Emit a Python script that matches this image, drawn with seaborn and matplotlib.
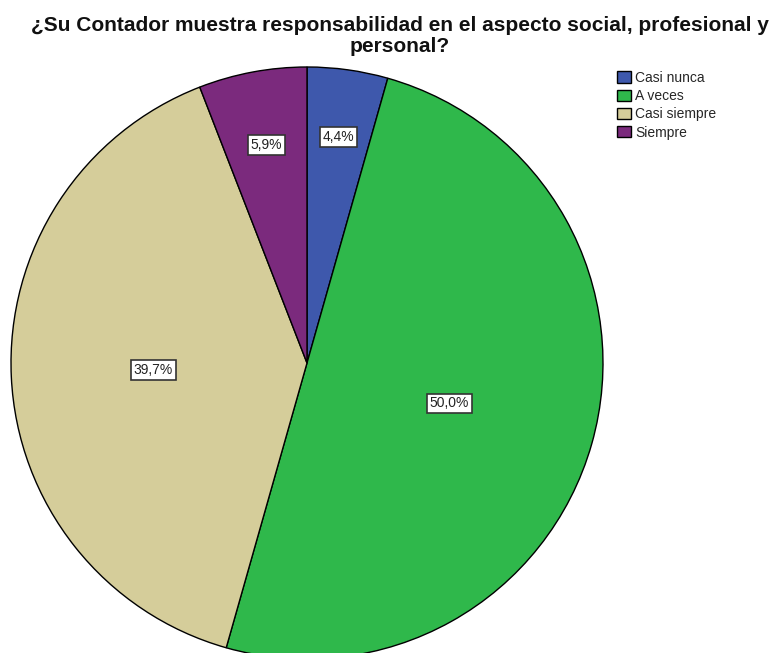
import matplotlib
matplotlib.use('Agg')
import matplotlib.pyplot as plt
import numpy as np
import seaborn as sns

# datos del gráfico
categorias = ['Casi nunca', 'A veces', 'Casi siempre', 'Siempre']
porcentajes = [4.4, 50.0, 39.7, 5.9]
colores = ['#3E58AC', '#2FB84B', '#D5CD9A', '#7B2A7D']
# distancia de cada etiqueta al centro (fracción del radio)
dist_etiquetas = [0.77, 0.5, 0.52, 0.75]

sns.set_theme(style='white')
plt.rcParams['font.family'] = ['Liberation Sans', 'DejaVu Sans']

fig = plt.figure(figsize=(7.84, 6.53), dpi=100)
ax = fig.add_axes([11 / 784, -6 / 653, 592 / 784, 592 / 653])

wedges, _ = ax.pie(porcentajes, colors=colores, startangle=90, counterclock=False,
                   radius=1, wedgeprops=dict(edgecolor='black', linewidth=1.0))

# etiquetas con caja blanca
for w, p, d in zip(wedges, porcentajes, dist_etiquetas):
    ang = np.deg2rad((w.theta1 + w.theta2) / 2)
    ax.text(d * np.cos(ang), d * np.sin(ang), f'{p:.1f}%'.replace('.', ','),
            ha='center', va='center', fontsize=10, color='#222222',
            bbox=dict(boxstyle='square,pad=0.2', facecolor='white', edgecolor='#333333', linewidth=1.2))

ax.set_xlim(-1, 1)
ax.set_ylim(-1, 1)
ax.set_aspect('equal')
ax.axis('off')

fig.text(0.51, 1 - 16 / 653, '¿Su Contador muestra responsabilidad en el aspecto social, profesional y\npersonal?',
         ha='center', va='top', fontsize=15, fontweight='bold', linespacing=1.15, color='#111111')

leg = fig.legend(wedges, categorias, loc='upper left', bbox_to_anchor=(617 / 784, 1 - 71 / 653),
                 frameon=False, fontsize=10, handlelength=1.0, handleheight=0.9,
                 handletextpad=0.3, labelspacing=0.3, borderaxespad=0, borderpad=0)

plt.savefig('out.png', dpi=100)
